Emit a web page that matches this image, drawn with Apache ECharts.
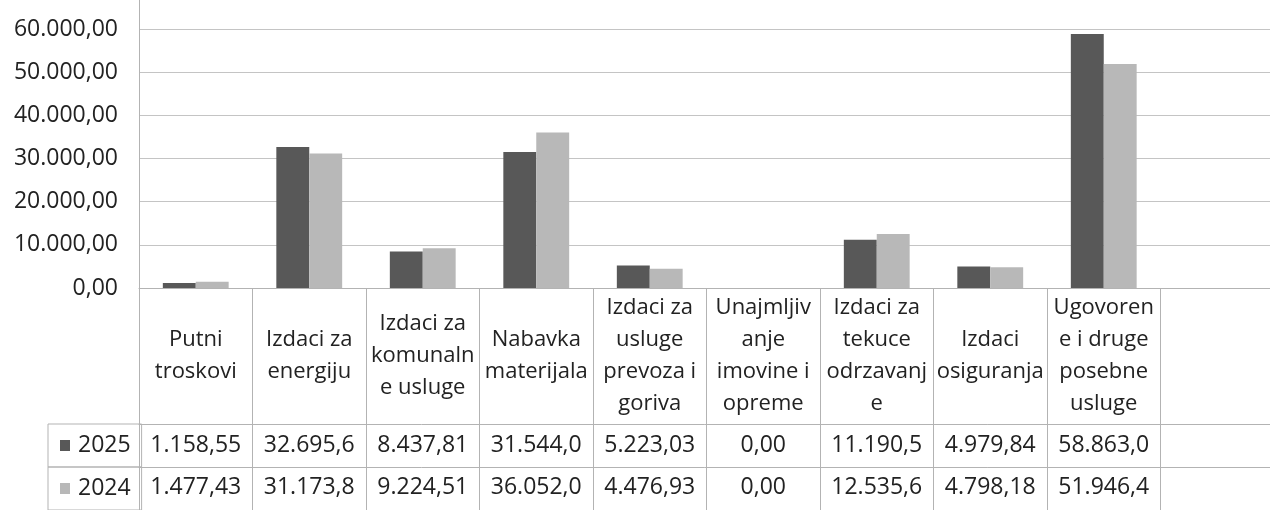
<!DOCTYPE html>
<html>
<head>
<meta charset="utf-8">
<script src="https://cdn.jsdelivr.net/npm/echarts@6/dist/echarts.min.js"></script>
<style>
html,body{margin:0;padding:0;background:#fff;}
#chart{width:1270px;height:510px;}
</style>
</head>
<body>
<div id="chart"></div>
<script>
// ---- data ----
var categories = [
  'Putni troskovi',
  'Izdaci za energiju',
  'Izdaci za komunalne usluge',
  'Nabavka materijala',
  'Izdaci za usluge prevoza i goriva',
  'Unajmljivanje imovine i opreme',
  'Izdaci za tekuce odrzavanje',
  'Izdaci osiguranja',
  'Ugovorene i druge posebne usluge',
  ''
];
var categoryLabels = [
  'Putni\ntroskovi',
  'Izdaci za\nenergiju',
  'Izdaci za\nkomunaln\ne usluge',
  'Nabavka\nmaterijala',
  'Izdaci za\nusluge\nprevoza i\ngoriva',
  'Unajmljiv\nanje\nimovine i\nopreme',
  'Izdaci za\ntekuce\nodrzavanj\ne',
  'Izdaci\nosiguranja',
  'Ugovoren\ne i druge\nposebne\nusluge',
  ''
];
var values2025 = [1158.55, 32695.6, 8437.81, 31544.0, 5223.03, 0.00, 11190.5, 4979.84, 58863.0, null];
var values2024 = [1477.43, 31173.8, 9224.51, 36052.0, 4476.93, 0.00, 12535.6, 4798.18, 51946.4, null];
var seriesNames = ['2025', '2024'];
var yTicks = {min: 0, max: 70000, interval: 10000};

// ---- helpers ----
function fmtNum(v, dec) {
  var parts = v.toFixed(dec).split('.');
  parts[0] = parts[0].replace(/\B(?=(\d{3})+(?!\d))/g, '.');
  return dec ? parts[0] + ',' + parts[1] : parts[0];
}
function fmtCell(v) {
  if (v === null || v === undefined) return '';
  return fmtNum(v, Math.abs(v) >= 10000 ? 1 : 2);
}

var FONT = 'Open Sans';
var TXT = '#222222';
var LINE = '#b3b3b3';
var DARK = '#585858';
var LIGHT = '#b8b8b8';

var chart = echarts.init(document.getElementById('chart'), null, {renderer: 'canvas'});

var legendCommon = {
  orient: 'horizontal',
  left: 48,
  itemWidth: 10,
  itemHeight: 11,
  icon: 'rect',
  padding: [10, 11, 10, 12],
  borderColor: LINE,
  borderWidth: 1,
  selectedMode: false,
  textStyle: {fontFamily: FONT, fontSize: 23, color: TXT, lineHeight: 23, padding: [0, 0, 0, 3]}
};

var option = {
  backgroundColor: '#ffffff',
  animation: false,
  legend: [
    Object.assign({}, legendCommon, {top: 424, data: [seriesNames[0]]}),
    Object.assign({}, legendCommon, {top: 467, data: [seriesNames[1]]})
  ],
  grid: {left: 139, right: -4, top: -14, height: 302, containLabel: false, outerBoundsMode: 'none'},
  xAxis: [
    {
      type: 'category',
      data: categories,
      position: 'bottom',
      axisLine: {show: true, lineStyle: {color: LINE, width: 1}},
      axisTick: {show: true, length: 222, inside: false, lineStyle: {color: LINE, width: 1}},
      axisLabel: {
        interval: 0,
        margin: 68,
        verticalAlign: 'middle',
        align: 'center',
        fontFamily: FONT, fontSize: 22, lineHeight: 32, color: TXT,
        formatter: function (v, i) { return categoryLabels[i]; }
      },
      splitLine: {show: false}
    },
    {
      type: 'category',
      data: categories,
      position: 'bottom',
      offset: 136,
      axisLine: {show: true, lineStyle: {color: LINE, width: 1}},
      axisTick: {show: false},
      axisLabel: {
        interval: 0, margin: 21, verticalAlign: 'middle', align: 'center',
        fontFamily: FONT, fontSize: 23, color: TXT,
        formatter: function (v, i) { return fmtCell(values2025[i]); }
      }
    },
    {
      type: 'category',
      data: categories,
      position: 'bottom',
      offset: 179,
      axisLine: {show: true, lineStyle: {color: LINE, width: 1}},
      axisTick: {show: false},
      axisLabel: {
        interval: 0, margin: 20, verticalAlign: 'middle', align: 'center',
        fontFamily: FONT, fontSize: 23, color: TXT,
        formatter: function (v, i) { return fmtCell(values2024[i]); }
      }
    }
  ],
  yAxis: {
    type: 'value',
    min: yTicks.min,
    max: yTicks.max,
    interval: yTicks.interval,
    axisLine: {show: true, lineStyle: {color: LINE, width: 1}},
    axisTick: {show: false},
    splitLine: {show: true, lineStyle: {color: '#c4c4c4', width: 1}},
    axisLabel: {
      margin: 21,
      fontFamily: FONT, fontSize: 23, color: TXT,
      formatter: function (v) { return fmtNum(v, 2); }
    }
  },
  series: [
    {
      name: seriesNames[0], type: 'bar', xAxisIndex: 0,
      data: values2025, barGap: '0%', barCategoryGap: '42%',
      itemStyle: {color: DARK}
    },
    {
      name: seriesNames[1], type: 'bar', xAxisIndex: 0,
      data: values2024, barGap: '0%', barCategoryGap: '42%',
      itemStyle: {color: LIGHT}
    }
  ]
};
chart.setOption(option);
</script>
</body>
</html>
